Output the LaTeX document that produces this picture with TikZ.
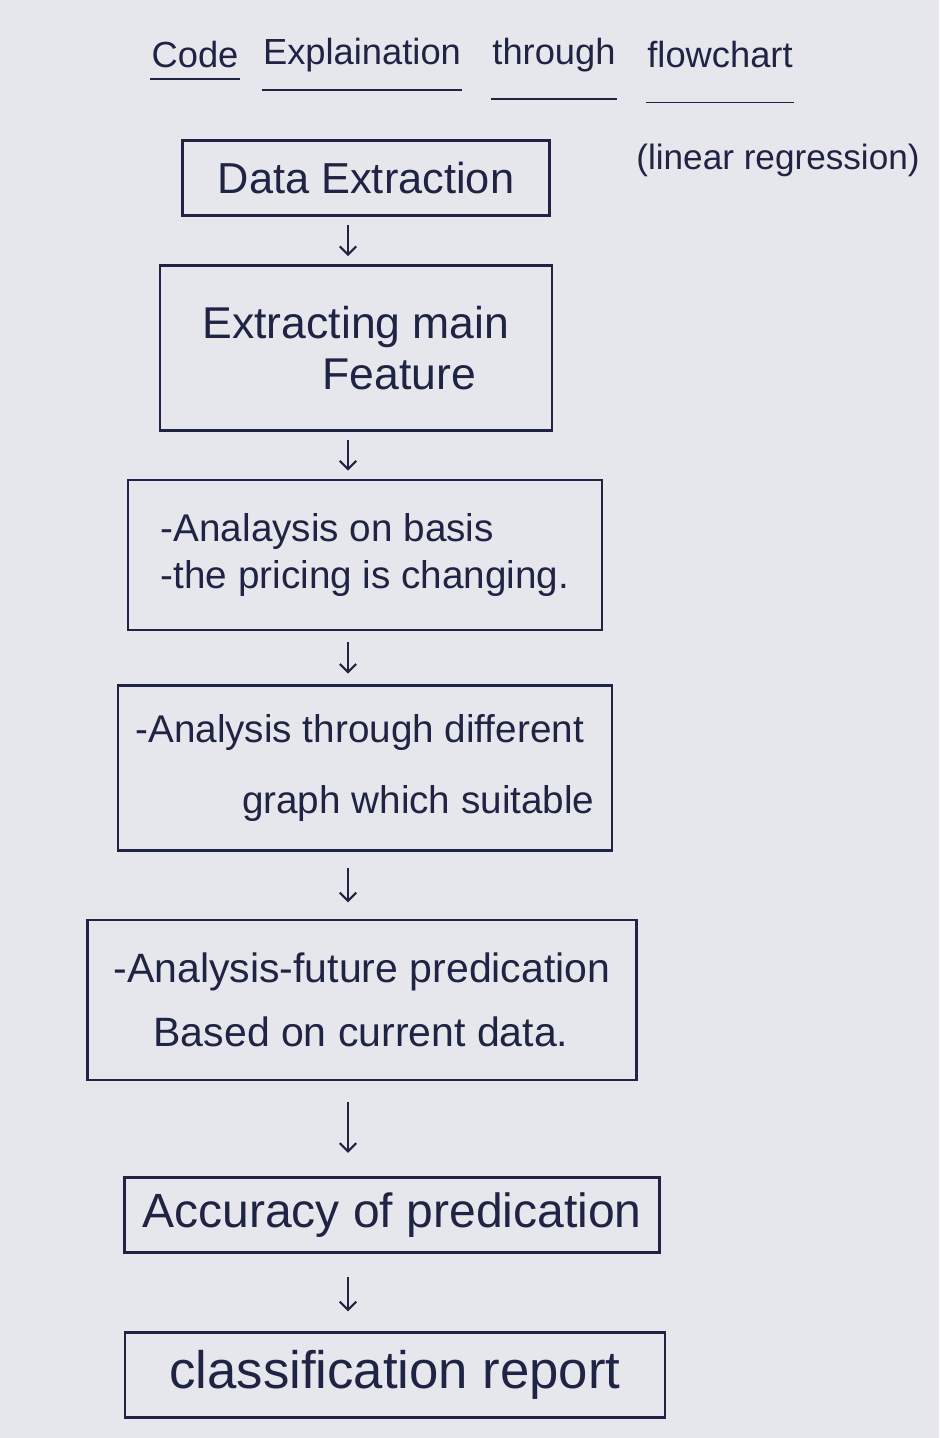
\documentclass[tikz,border=0pt]{standalone}
\usepackage{fontspec}
\setmainfont{Liberation Sans}
\usetikzlibrary{arrows.meta}
\definecolor{paper}{HTML}{E6E7EC}
\definecolor{ink}{HTML}{1F2444}
\begin{document}
\begin{tikzpicture}[x=0.03cm,y=-0.03cm,
  box/.style={draw=ink,line width=2.2pt,text=ink,align=left,inner sep=0pt},
  ttl/.style={text=ink,font=\fontsize{31}{36}\selectfont,inner sep=1pt},
  uline/.style={draw=ink,line width=1.6pt},
  arr/.style={draw=ink,line width=1.8pt,-{Straight Barb[length=7pt,width=14pt]}}]
\fill[paper] (0,0) rectangle (939,1438);
\useasboundingbox (0,0) rectangle (939,1438);
% title
\node[ttl] (t1) at (195,55) {Code};
\node[ttl] (t2) at (362,55) {Explaination};
\node[ttl] (t3) at (554,55) {through};
\node[ttl] (t4) at (720,55) {flowchart};
\node[text=ink,font=\fontsize{30}{36}\selectfont] (sub) at (778,160) {(linear regression)};
\draw[uline] ([yshift=-8pt]t1.south west) -- ([yshift=-8pt]t1.south east);
\draw[uline] ([yshift=-14pt]t2.south west) -- ([yshift=-14pt]t2.south east);
\draw[uline] ([yshift=-22pt]t3.south west) -- ([yshift=-22pt]t3.south east);
\draw[uline] ([yshift=-28pt]t4.south west) -- ([yshift=-28pt]t4.south east);
% boxes
\node[box,minimum width=11cm,minimum height=2.25cm,font=\fontsize{37}{42}\selectfont] (b1) at (366,178) {Data Extraction};
\node[box,minimum width=11.76cm,minimum height=4.95cm,font=\fontsize{38}{44}\selectfont] (b2) at (356,348) {Extracting main\\\hspace*{3.6cm}Feature};
\node[box,minimum width=14.22cm,minimum height=4.5cm,font=\fontsize{33}{40}\selectfont] (b3) at (365,555) {-Analaysis on basis\\-the pricing is changing.};
\node[box,minimum width=14.82cm,minimum height=4.95cm,font=\fontsize{33}{60}\selectfont] (b4) at (365,768) {-Analysis through different\\\hspace*{3.2cm}graph which suitable};
\node[box,minimum width=16.47cm,minimum height=4.8cm,font=\fontsize{35}{55}\selectfont] (b5) at (362,1000) {-Analysis-future predication\\\hspace*{1.2cm}Based on current data.};
\node[box,minimum width=16.05cm,minimum height=2.25cm,font=\fontsize{41}{46}\selectfont] (b6) at (392,1215) {Accuracy of predication};
\node[box,minimum width=16.2cm,minimum height=2.55cm,font=\fontsize{45}{50}\selectfont] (b7) at (395,1375) {classification report};
% arrows
\coordinate (ax) at (348,0);
\draw[arr,shorten <=7pt,shorten >=7pt] (b1.south -| ax) -- (b2.north -| ax);
\draw[arr,shorten <=7pt,shorten >=7pt] (b2.south -| ax) -- (b3.north -| ax);
\draw[arr,shorten <=9pt,shorten >=9pt] (b3.south -| ax) -- (b4.north -| ax);
\draw[arr,shorten <=14pt,shorten >=14pt] (b4.south -| ax) -- (b5.north -| ax);
\draw[arr,shorten <=18pt,shorten >=20pt] (b5.south -| ax) -- (b6.north -| ax);
\draw[arr,shorten <=20pt,shorten >=17pt] (b6.south -| ax) -- (b7.north -| ax);
\end{tikzpicture}
\end{document}
